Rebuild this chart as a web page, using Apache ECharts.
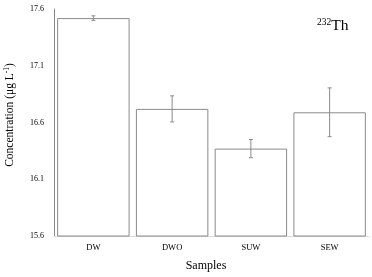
<!DOCTYPE html>
<html>
<head>
<meta charset="utf-8">
<script src="https://cdn.jsdelivr.net/npm/echarts@6/dist/echarts.min.js"></script>
<style>
  html, body { margin: 0; padding: 0; background: #fff; }
  #chart { width: 372px; height: 277px; }
</style>
</head>
<body>
<div id="chart"></div>
<script>
// samples and mean concentration of 232Th
const categories = ['DW', 'DWO', 'SUW', 'SEW']
const means = [17.52, 16.72, 16.37, 16.69]
// +/- error (std dev)
const errors = [0.02, 0.115, 0.08, 0.215]
// y tick labels
const yTicks = [15.6, 16.1, 16.6, 17.1, 17.6]

const chart = echarts.init(document.getElementById('chart'))
const font = '"Liberation Serif", "Times New Roman", serif'

const errData = means.map((m, i) => [i, m - errors[i], m + errors[i]])

const option = {
  animation: false,
  textStyle: { fontFamily: font },
  title: {
    text: '{sup|232}{main|Th}',
    left: 312,
    top: 12,
    textStyle: {
      fontWeight: 'normal',
      rich: {
        sup: { fontFamily: font, fontSize: 9.5, fontWeight: 'normal', color: '#000', verticalAlign: 'top', padding: [0, 0, 7, 0] },
        main: { fontFamily: font, fontSize: 15.5, fontWeight: 'normal', color: '#000' }
      }
    }
  },
  grid: { left: 54, right: 3, top: 9, bottom: 41, outerBoundsMode: 'none', containLabel: false },
  xAxis: {
    type: 'category',
    data: categories,
    name: 'Samples',
    nameLocation: 'middle',
    nameGap: 24,
    nameTextStyle: { fontFamily: font, fontSize: 12, color: '#000', padding: [0, 11, 0, 0] },
    axisLine: { lineStyle: { color: '#d9d9d9' } },
    axisTick: { show: false },
    axisLabel: { fontFamily: font, fontSize: 8.5, color: '#000', margin: 7 }
  },
  yAxis: {
    type: 'value',
    min: 15.6,
    max: 17.6,
    name: 'Concentration (μg L{sup|-1})',
    nameLocation: 'middle',
    nameGap: 37,
    nameTextStyle: {
      fontFamily: font, fontSize: 11.5, color: '#000', padding: [0, 0, 0, 15],
      rich: { sup: { fontFamily: font, fontSize: 7.5, color: '#000', verticalAlign: 'top', padding: [0, 0, 6, 0] } }
    },
    axisLine: { show: true, lineStyle: { color: '#888' } },
    axisTick: { show: false },
    splitLine: { show: false },
    axisLabel: {
      customValues: yTicks,
      fontFamily: font, fontSize: 8, color: '#000', margin: 10,
      formatter: v => v.toFixed(1)
    }
  },
  series: [
    {
      type: 'bar',
      data: means,
      barCategoryGap: '8%',
      itemStyle: { color: '#fff', borderColor: '#8a8a8a', borderWidth: 1 }
    },
    {
      type: 'custom',
      data: errData,
      z: 10,
      renderItem (params, api) {
        const x = api.value(0)
        const lo = api.coord([x, api.value(1)])
        const hi = api.coord([x, api.value(2)])
        const w = 2
        const style = { stroke: '#8a8a8a', lineWidth: 1 }
        return {
          type: 'group',
          children: [
            { type: 'line', shape: { x1: hi[0], y1: hi[1], x2: lo[0], y2: lo[1] }, style },
            { type: 'line', shape: { x1: hi[0] - w, y1: hi[1], x2: hi[0] + w, y2: hi[1] }, style },
            { type: 'line', shape: { x1: lo[0] - w, y1: lo[1], x2: lo[0] + w, y2: lo[1] }, style }
          ]
        }
      }
    }
  ]
}
chart.setOption(option)
</script>
</body>
</html>
